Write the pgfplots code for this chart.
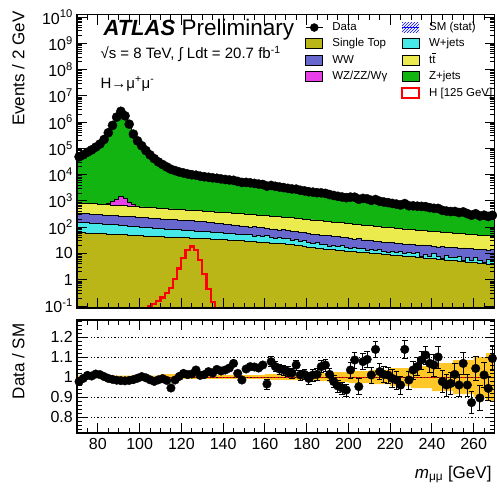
\documentclass[border=0pt]{standalone}
\usepackage{fontspec}
\setmainfont{Liberation Sans}
\usepackage{pgfplots}
\pgfplotsset{compat=1.18}
\usepackage{pgfplotstable}
\usetikzlibrary{patterns}
\usepgfplotslibrary{fillbetween}

\definecolor{cst}{RGB}{186,182,24}
\definecolor{cww}{RGB}{103,103,205}
\definecolor{cwz}{RGB}{232,64,232}
\definecolor{cwj}{RGB}{70,232,232}
\definecolor{ctt}{RGB}{235,235,78}
\definecolor{czj}{RGB}{18,180,18}
\definecolor{cband}{RGB}{255,200,40}

\pgfplotsset{boxleg/.style={legend image code/.code={\draw[##1] (0pt,-5pt) rectangle (17pt,5pt);}}}

% cumulative stack tops per 2 GeV bin (left edge), last row repeats the last bin
\pgfplotstableread{
x tot mag tt ww wj st bu bl
70 49000 860 860 343 157 62.5 1.007 0.993
72 57500 839 839 334 153 61.4 1.007 0.993
74 70800 818 818 326 149 60.3 1.007 0.993
76 87100 797 797 318 145 59.2 1.007 0.993
78 110000 777 777 310 141 58.1 1.007 0.993
80 145000 758 758 302 137 57.0 1.007 0.993
82 219000 739 739 294 133 56.0 1.007 0.993
84 398000 795 720 287 130 55.0 1.007 0.993
86 759000 933 702 280 126 54.0 1.007 0.993
88 1580000 1175 685 273 123 53.0 1.007 0.993
90 2630000 1480 668 266 118 52.0 1.007 0.993
92 1780000 1200 651 259 115 51.1 1.007 0.993
94 851000 891 635 253 112 50.1 1.007 0.993
96 355000 724 619 247 108 49.2 1.007 0.993
98 195000 646 603 240 105 48.3 1.007 0.993
100 126000 588 588 234 102 47.4 1.007 0.993
102 83200 573 573 228 99.0 46.6 1.007 0.993
104 57500 559 559 223 96.0 45.7 1.007 0.993
106 41700 545 545 217 93.2 44.9 1.007 0.993
108 30900 531 531 212 90.5 44.1 1.007 0.993
110 24500 519 519 207 88.0 43.3 1.014 0.986
112 20000 507 507 202 85.8 42.6 1.014 0.986
114 17000 495 495 197 83.7 41.9 1.014 0.986
116 14500 484 484 193 81.6 41.3 1.014 0.986
118 12600 473 473 188 79.5 40.6 1.009 0.991
120 11400 462 462 184 77.5 40.0 1.009 0.991
122 10500 452 452 180 75.6 39.3 1.009 0.991
124 9770 442 442 176 73.7 38.7 1.009 0.991
126 9230 432 432 172 71.9 38.1 1.009 0.991
128 8710 422 422 168 70.1 37.5 1.009 0.991
130 8220 412 412 163 68.2 36.8 1.009 0.991
132 7760 401 401 156 66.4 36.0 1.009 0.991
134 7410 391 391 150 64.6 35.3 1.009 0.991
136 7030 382 382 144 62.8 34.6 1.009 0.991
138 6680 372 372 138 61.1 33.8 1.009 0.991
140 6340 363 363 132 59.4 33.2 1.009 0.991
142 6010 354 354 127 57.8 32.5 1.009 0.991
144 5710 345 345 122 56.2 31.8 1.009 0.991
146 5420 336 336 117 54.7 31.2 1.009 0.991
148 5140 328 328 112 53.2 30.5 1.009 0.991
150 4890 319 319 108 51.6 29.8 1.009 0.991
152 4650 309 309 101 53.0 29.0 1.009 0.991
154 4420 300 300 103 44.5 28.2 1.009 0.991
156 4200 291 291 94.5 48.8 27.4 1.009 0.991
158 3990 283 283 94.8 43.1 26.7 1.009 0.991
160 3790 274 274 89.4 47.5 25.9 1.014 0.986
162 3610 266 266 83.6 41.3 25.2 1.014 0.986
164 3430 259 259 85.8 37.1 24.5 1.014 0.986
166 3260 251 251 78.6 41.9 23.9 1.014 0.986
168 3100 244 244 79.1 38.6 23.2 1.014 0.986
170 2940 236 236 74.4 39.1 22.4 1.016 0.984
172 2790 227 227 68.2 32.0 21.4 1.016 0.984
174 2650 219 219 69.2 34.0 20.4 1.016 0.984
176 2510 211 211 62.8 29.3 19.5 1.016 0.984
178 2380 203 203 62.3 31.3 18.6 1.016 0.984
180 2260 196 196 58.5 26.6 17.8 1.020 0.980
182 2140 189 189 54.2 23.2 17.0 1.020 0.980
184 2030 182 182 55.0 25.5 16.2 1.020 0.980
186 1930 175 175 49.9 22.9 15.5 1.020 0.980
188 1830 169 169 49.8 22.8 14.8 1.020 0.980
190 1730 163 163 46.9 18.9 14.2 1.024 0.976
192 1650 157 157 43.4 20.5 13.8 1.024 0.976
194 1570 151 151 44.2 18.0 13.3 1.024 0.976
196 1490 146 146 40.4 19.7 12.9 1.024 0.976
198 1420 141 141 40.5 17.0 12.5 1.024 0.976
200 1350 136 136 38.1 15.1 12.1 1.030 0.970
202 1280 131 131 35.4 17.0 11.7 1.030 0.970
204 1220 126 126 35.9 15.6 11.4 1.030 0.970
206 1160 121 121 32.7 15.9 11.0 1.030 0.970
208 1100 117 117 32.8 13.2 10.6 1.030 0.970
210 1040 113 113 30.8 14.5 10.3 1.036 0.964
212 993 109 109 28.8 12.7 9.98 1.036 0.964
214 944 105 105 29.5 14.0 9.66 1.036 0.964
216 897 102 102 27.2 12.1 9.35 1.036 0.964
218 853 98.3 98.3 27.3 10.9 9.06 1.036 0.964
220 811 95.0 95.0 25.9 12.3 8.77 1.045 0.955
222 771 91.7 91.7 24.3 11.3 8.49 1.045 0.955
224 733 88.6 88.6 24.8 11.6 8.22 1.045 0.955
226 697 85.6 85.6 22.8 9.66 7.96 1.045 0.955
228 662 82.7 82.7 23.0 10.6 7.71 1.045 0.955
230 630 80.1 80.1 21.8 9.84 7.46 1.055 0.945
232 600 77.7 77.7 20.5 10.7 7.20 1.055 0.945
234 572 75.4 75.4 21.1 7.85 6.96 1.055 0.945
236 545 73.2 73.2 19.5 9.38 6.72 1.055 0.945
238 519 71.0 71.0 19.7 7.79 6.49 1.055 0.945
240 495 69.0 69.0 18.8 9.64 6.27 1.070 0.930
242 472 66.9 66.9 17.7 7.70 6.06 1.070 0.930
244 449 64.9 64.9 18.1 6.44 5.85 1.070 0.930
246 428 63.0 63.0 16.8 8.36 5.66 1.070 0.930
248 408 61.2 61.2 16.9 7.36 5.47 1.070 0.930
250 394 59.4 59.4 16.4 7.13 5.27 1.085 0.915
252 376 57.8 57.8 15.6 7.73 5.08 1.085 0.915
254 359 56.2 56.2 16.2 5.68 4.90 1.085 0.915
256 343 54.7 54.7 15.1 6.79 4.72 1.085 0.915
258 327 53.2 53.2 15.3 5.64 4.55 1.085 0.915
260 313 51.8 51.8 14.7 6.98 4.39 1.100 0.900
262 299 50.4 50.4 14.0 5.58 4.23 1.100 0.900
264 285 49.0 49.0 14.5 4.67 4.07 1.100 0.900
266 272 47.6 47.6 13.4 6.06 3.93 1.120 0.880
268 260 46.3 46.3 13.7 5.33 3.78 1.120 0.880
270 260 46.3 46.3 13.7 5.33 3.78 1.120 0.880
}\stack

% data per bin centre: events, data/SM, error on ratio
\pgfplotstableread{
x data r e
71 47900 0.977 0.006
73 57100 0.993 0.006
75 71400 1.008 0.006
77 87500 1.005 0.006
79 111700 1.015 0.006
81 146700 1.012 0.006
83 219400 1.002 0.006
85 395200 0.993 0.006
87 749900 0.988 0.006
89 1554700 0.984 0.006
91 2582700 0.982 0.006
93 1746200 0.981 0.006
95 836500 0.983 0.006
97 350400 0.987 0.006
99 193800 0.994 0.006
101 126300 1.002 0.006
103 82870 0.996 0.006
105 56700 0.986 0.006
107 40780 0.978 0.006
109 30470 0.986 0.006
111 24300 0.992 0.006
113 19660 0.983 0.006
115 16070 0.945 0.008
117 14280 0.985 0.008
119 12640 1.003 0.008
121 11610 1.018 0.008
123 10630 1.012 0.008
125 9920 1.015 0.008
127 9550 1.035 0.008
129 8780 1.008 0.008
131 8320 1.012 0.008
133 7970 1.027 0.008
135 7560 1.020 0.008
137 7300 1.038 0.008
139 6880 1.030 0.008
141 6560 1.035 0.012
143 6280 1.045 0.012
145 6100 1.068 0.012
147 5520 1.018 0.012
149 5060 0.985 0.012
151 5090 1.040 0.012
153 4890 1.052 0.012
155 4640 1.050 0.012
157 4390 1.045 0.012
159 4230 1.060 0.012
161 3660 0.965 0.025
163 3890 1.077 0.025
165 3610 1.052 0.025
167 3390 1.040 0.025
169 3210 1.035 0.025
171 3020 1.027 0.025
173 2850 1.020 0.025
175 2810 1.060 0.025
177 2540 1.010 0.025
179 2410 1.013 0.025
181 2240 0.993 0.030
183 2160 1.010 0.030
185 2060 1.013 0.030
187 2030 1.052 0.030
189 1940 1.060 0.030
191 1750 1.013 0.030
193 1610 0.977 0.030
195 1500 0.955 0.030
197 1410 0.945 0.030
199 1330 0.935 0.030
201 1400 1.035 0.040
203 1390 1.085 0.040
205 1160 0.952 0.040
207 1250 1.077 0.040
209 1200 1.088 0.040
211 1050 1.010 0.040
213 1130 1.138 0.040
215 970 1.027 0.040
217 909 1.013 0.040
219 862 1.010 0.040
221 805 0.993 0.045
223 759 0.985 0.045
225 704 0.960 0.045
227 793 1.138 0.045
229 652 0.985 0.045
231 652 1.035 0.045
233 631 1.052 0.045
235 621 1.085 0.045
237 605 1.110 0.045
239 554 1.068 0.045
241 525 1.060 0.055
243 519 1.100 0.055
245 439 0.977 0.055
247 411 0.960 0.055
249 395 0.968 0.055
251 399 1.013 0.055
253 361 0.960 0.055
255 383 1.068 0.055
257 329 0.960 0.055
259 285 0.872 0.055
261 326 1.043 0.062
263 268 0.895 0.062
265 288 1.010 0.062
267 256 0.943 0.062
269 284 1.093 0.062
}\obs

\begin{document}
\begin{tikzpicture}[font=\fontsize{16}{19}\selectfont]
\pgfplotsset{every axis/.append style={
  scale only axis, width=417.5pt, xmin=70, xmax=270,
  axis on top, axis line style={line width=1.1pt},
  tick style={black, line width=0.9pt},
  major tick length=10pt, minor tick length=5pt,
  xtick={80,100,...,260}, minor xtick={70,75,...,270},
  tick label style={font=\fontsize{16}{19}\selectfont, inner sep=0pt},
  yticklabel style={xshift=-4pt},
  xticklabel style={yshift=-5pt}}}

\begin{axis}[name=top, at={(0pt,0pt)}, anchor=north west, height=293.5pt,
  ymode=log, ymin=0.084, ymax=1.25e10, log origin y=infty,
  xticklabels={},
  ytick={0.1,1,10,100,1e3,1e4,1e5,1e6,1e7,1e8,1e9,1e10},
  yticklabels={10\textsuperscript{-1},1,10,10\textsuperscript{2},10\textsuperscript{3},10\textsuperscript{4},10\textsuperscript{5},10\textsuperscript{6},10\textsuperscript{7},10\textsuperscript{8},10\textsuperscript{9},10\textsuperscript{10}},
  minor ytick={0.09,0.2,0.3,0.4,0.5,0.6,0.7,0.8,0.9,2,3,4,5,6,7,8,9,20,30,40,50,60,70,80,90,200,300,400,500,600,700,800,900,2000,3000,4000,5000,6000,7000,8000,9000,2e4,3e4,4e4,5e4,6e4,7e4,8e4,9e4,2e5,3e5,4e5,5e5,6e5,7e5,8e5,9e5,2e6,3e6,4e6,5e6,6e6,7e6,8e6,9e6,2e7,3e7,4e7,5e7,6e7,7e7,8e7,9e7,2e8,3e8,4e8,5e8,6e8,7e8,8e8,9e8,2e9,3e9,4e9,5e9,6e9,7e9,8e9,9e9},
  legend columns=2, legend cell align=left,
  legend style={at={(0.546,0.975)}, anchor=north west, draw=none, fill=none,
    inner sep=0pt, font=\fontsize{11.5}{13}\selectfont, row sep=5.3pt,
    nodes={inner sep=0pt, text height=8.5pt, text depth=2.5pt},
    /tikz/every odd column/.append style={column sep=9pt},
    /tikz/every even column/.append style={column sep=14pt}}]
\addplot[forget plot, const plot, fill=czj, draw=black, line width=0.8pt] table[x=x,y=tot]{\stack} \closedcycle;
\addplot[forget plot, const plot, fill=cwz, draw=black, line width=0.8pt] table[x=x,y=mag]{\stack} \closedcycle;
\addplot[forget plot, const plot, fill=ctt, draw=black, line width=0.8pt] table[x=x,y=tt]{\stack} \closedcycle;
\addplot[forget plot, const plot, fill=cww, draw=black, line width=0.8pt] table[x=x,y=ww]{\stack} \closedcycle;
\addplot[forget plot, const plot, fill=cwj, draw=black, line width=0.8pt] table[x=x,y=wj]{\stack} \closedcycle;
\addplot[forget plot, const plot, fill=cst, draw=black, line width=0.8pt] table[x=x,y=st]{\stack} \closedcycle;
\addplot[forget plot, const plot, draw=red, line width=2.2pt] coordinates {
 (100,0.07)(102,0.085)(104,0.10)(106,0.12)(108,0.15)(110,0.21)(112,0.32)(114,0.5)
 (116,1.1)(118,2.7)(120,6.5)(122,13.5)(124,18.5)(126,13.5)(128,5.5)(130,1.6)
 (132,0.45)(134,0.14)(136,0.06)(138,0.06)};
\addplot[forget plot, only marks, mark=*, mark size=4.6pt, black] table[x=x,y=data]{\obs};

\addlegendimage{legend image code/.code={\path[draw=none,fill=none] (0pt,-5pt) rectangle (17pt,5pt);\draw[black,line width=1.2pt](0pt,0pt)--(17pt,0pt);\fill[black](8.5pt,0pt) circle (4pt);}}
\addlegendentry{Data}
\addlegendimage{legend image code/.code={\path[draw=none,fill=none] (0pt,-5pt) rectangle (17pt,5pt);\fill[pattern=north east lines,pattern color=blue,draw=none](0pt,-5pt) rectangle (17pt,5pt);\draw[blue,line width=1.2pt](0pt,0pt)--(17pt,0pt);}}
\addlegendentry{SM (stat)}
\addlegendimage{boxleg, fill=cst, draw=black, line width=0.8pt}
\addlegendentry{Single Top}
\addlegendimage{boxleg, fill=cwj, draw=black, line width=0.8pt}
\addlegendentry{W+jets}
\addlegendimage{boxleg, fill=cww, draw=black, line width=0.8pt}
\addlegendentry{WW}
\addlegendimage{boxleg, fill=ctt, draw=black, line width=0.8pt}
\addlegendentry{t\makebox[0pt][l]{\raisebox{0.8em}{\rule{0.3em}{0.07em}}}t}
\addlegendimage{boxleg, fill=cwz, draw=black, line width=0.8pt}
\addlegendentry{WZ/ZZ/Wγ}
\addlegendimage{boxleg, fill=czj, draw=black, line width=0.8pt}
\addlegendentry{Z+jets}
\addlegendimage{legend image code/.code={\path[draw=none,fill=none] (0pt,-5pt) rectangle (17pt,5pt);}}
\addlegendentry{}
\addlegendimage{boxleg, fill=white, draw=red, line width=1.8pt}
\addlegendentry{H [125 GeV]}
\end{axis}

\begin{axis}[name=bot, at={(0pt,-305.5pt)}, anchor=north west, height=113pt,
  ymin=0.72, ymax=1.285,
  ytick={0.8,0.9,1,1.1,1.2}, yticklabels={0.8,0.9,1,1.1,1.2},
  minor ytick={0.72,0.74,...,1.285},
  xticklabels={80,100,120,140,160,180,200,220,240,260},
  ymajorgrids, grid style={black, line width=0.8pt, dash pattern=on 1.2pt off 2.2pt}]
\addplot[const plot, draw=none, name path=bup, forget plot] table[x=x,y=bu]{\stack};
\addplot[const plot, draw=none, name path=blo, forget plot] table[x=x,y=bl]{\stack};
\addplot[fill=cband, draw=none] fill between[of=bup and blo];
\addplot[red, line width=1pt] coordinates {(70,1)(270,1)};
\addplot[only marks, mark=*, mark size=4.3pt, black,
  error bars/.cd, y dir=both, y explicit,
  error bar style={line width=1pt},
  error mark options={rotate=90, mark size=2.8pt, line width=1pt}]
  table[x=x,y=r,y error=e]{\obs};
\end{axis}

\node[anchor=base west, font=\fontsize{22}{27}\selectfont\bfseries\itshape] at (23pt,-20.5pt) {ATLAS};
\node[anchor=base west, font=\fontsize{22.5}{27}\selectfont] at (101pt,-20.5pt) {Preliminary};
\node[anchor=base west, font=\fontsize{15}{18}\selectfont] at (20pt,-44pt) {√s = 8 TeV, ∫ Ldt = 20.7 fb\textsuperscript{-1}};
\node[anchor=base west, font=\fontsize{15}{18}\selectfont] at (20pt,-73.5pt) {H→μ\textsuperscript{+}μ\textsuperscript{-}};
\node[rotate=90, anchor=base east, font=\fontsize{17}{20}\selectfont] at (-52.5pt,6.5pt) {Events / 2 GeV};
\node[rotate=90, anchor=base east, font=\fontsize{17}{20}\selectfont] at (-52.5pt,-305.5pt) {Data / SM};
\node[anchor=base east, font=\fontsize{17}{20}\selectfont] at (418pt,-463.5pt) {\textit{m}\textsubscript{μμ} [GeV]};

\pgfresetboundingbox
\path (-77pt,14.5pt) rectangle (420pt,-476.5pt);
\end{tikzpicture}
\end{document}
